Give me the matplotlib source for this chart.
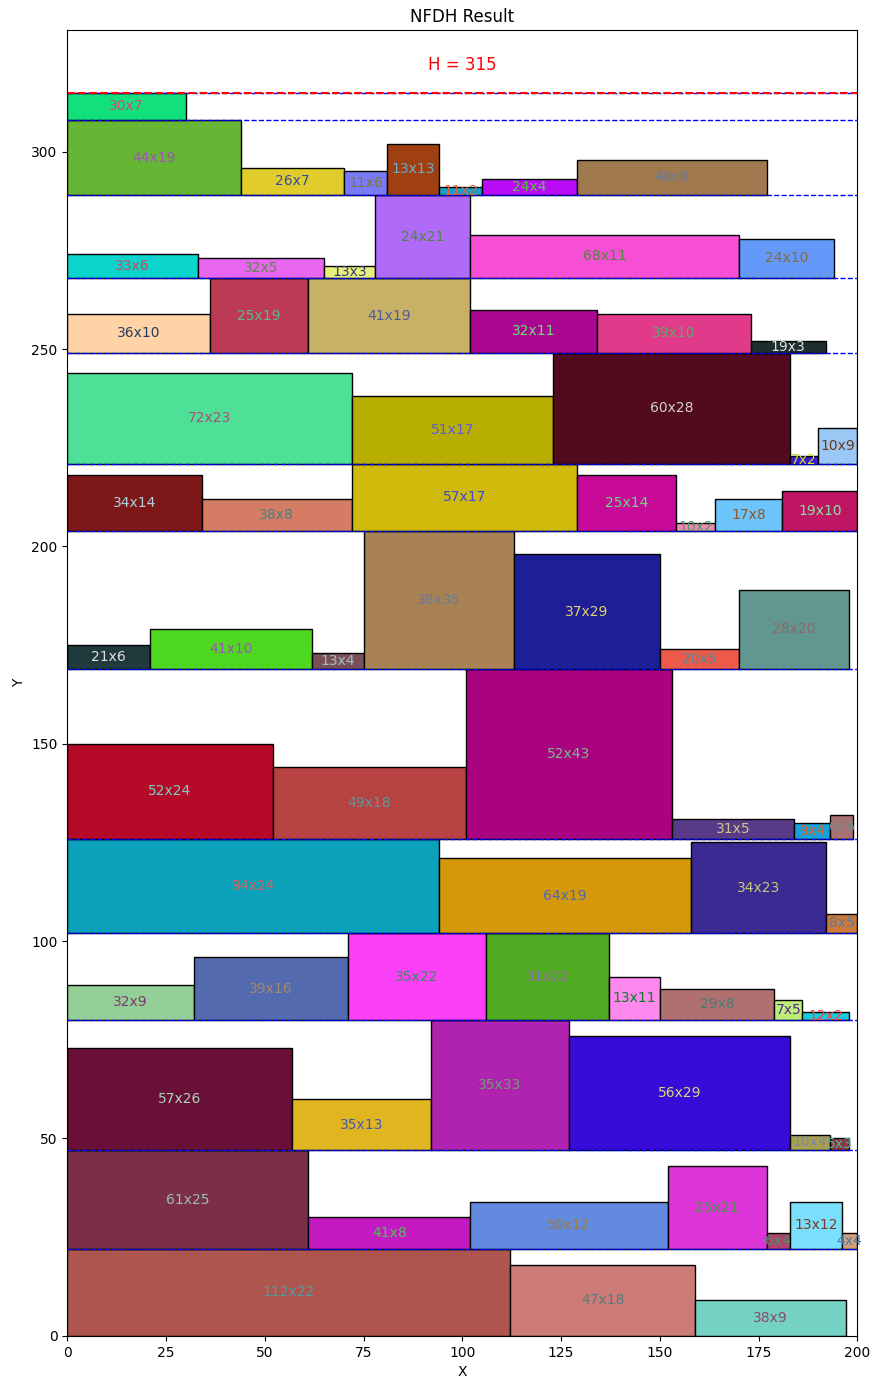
"""
NFDH strip packing result: rectangles laid out level by level in a strip of width 200.
"""

import matplotlib
matplotlib.use('Agg')
import matplotlib.pyplot as plt
import matplotlib.patches as patches

strip_width = 200

# one entry per rectangle, in the order they sit left to right within each level
level_id = [0, 0, 0,
            1, 1, 1, 1, 1, 1, 1,
            2, 2, 2, 2, 2, 2,
            3, 3, 3, 3, 3, 3, 3, 3,
            4, 4, 4, 4,
            5, 5, 5, 5, 5, 5,
            6, 6, 6, 6, 6, 6, 6,
            7, 7, 7, 7, 7, 7, 7,
            8, 8, 8, 8, 8,
            9, 9, 9, 9, 9, 9,
            10, 10, 10, 10, 10, 10,
            11, 11, 11, 11, 11, 11, 11,
            12]
rect_w = [112, 47, 38,
          61, 41, 50, 25, 6, 13, 4,
          57, 35, 35, 56, 10, 5,
          32, 39, 35, 31, 13, 29, 7, 12,
          94, 64, 34, 8,
          52, 49, 52, 31, 9, 6,
          21, 41, 13, 38, 37, 20, 28,
          34, 38, 57, 25, 10, 17, 19,
          72, 51, 60, 7, 10,
          36, 25, 41, 32, 39, 19,
          33, 32, 13, 24, 68, 24,
          44, 26, 11, 13, 11, 24, 48,
          30]
rect_h = [22, 18, 9,
          25, 8, 12, 21, 4, 12, 4,
          26, 13, 33, 29, 4, 3,
          9, 16, 22, 22, 11, 8, 5, 2,
          24, 19, 23, 5,
          24, 18, 43, 5, 4, 6,
          6, 10, 4, 35, 29, 5, 20,
          14, 8, 17, 14, 2, 8, 10,
          23, 17, 28, 2, 9,
          10, 19, 19, 11, 10, 3,
          6, 5, 3, 21, 11, 10,
          19, 7, 6, 13, 2, 4, 9,
          7]
face_colors = ['#ae554e', '#cd7b76', '#75d1c3',
               '#7a2e4a', '#c41ac4', '#628bdf', '#de35d8', '#b0406e', '#7adffa', '#d4a07a',
               '#6a1038', '#e1b51f', '#b022b0', '#380cd8', '#a8a050', '#8a3a3a',
               '#93cf96', '#546aae', '#fb40f8', '#4faa21', '#ff88ee', '#b07070', '#bcee78', '#1ac8d8',
               '#0ba1ba', '#d4980a', '#3a2a92', '#cc7a3a',
               '#b50a28', '#b74242', '#aa0380', '#583a88', '#1aa0d8', '#a87070',
               '#1e3a3c', '#4ed820', '#7a5058', '#a88252', '#1e1e96', '#ee5a4a', '#619691',
               '#7e1818', '#d47c64', '#cfb90a', '#c80a98', '#f08ab0', '#6cc4fa', '#be1662',
               '#4ee096', '#b8ae02', '#520a1e', '#3a1ad8', '#9ac8f4',
               '#ffd3a6', '#bc3a54', '#c8b066', '#aa0890', '#e23a8a', '#1e2e2e',
               '#0ad4cc', '#e866f0', '#e6f07a', '#b06af8', '#f64ed4', '#6399f8',
               '#66b535', '#e0cc2a', '#7a7af8', '#a04010', '#1aa0c8', '#ba0af8', '#a07a4e',
               '#12e07a']
text_colors = ['#4e9ea0', '#4f7f80', '#8a4a63',
               '#9abfa8', '#4fc04f', '#9b7a3c', '#3c9a3c', '#3c9a5c', '#7a3c2a', '#4a7aaa',
               '#a6d6b6', '#3c5aba', '#6aa06a', '#d8d87a', '#7a8a9a', '#4ab0b0',
               '#7a3c6a', '#a08a6a', '#3a8a5a', '#9a6aaa', '#107a2a', '#4a7a7a', '#5a2a8a', '#ff4040',
               '#e0604a', '#4a6aba', '#c8c87a', '#5a7a9a',
               '#7acec0', '#5a9a9a', '#7aba8a', '#c8c88a', '#e06020', '#7a8a8a',
               '#e0e0e0', '#a050c0', '#a0c0c0', '#6a7a9a', '#e0d070', '#4a8a9a', '#8a6a6a',
               '#b0d0e0', '#4e7e7e', '#3a4ada', '#60e080', '#4a9a6a', '#8a5a2a', '#8ae0a0',
               '#b04a7a', '#5a5ada', '#d0d0d0', '#c8e020', '#6a3a1a',
               '#2a3a5a', '#5aba9a', '#4e5a9a', '#6ae07a', '#5aaa6a', '#e0e0e0',
               '#c84a5a', '#5a8a4a', '#3a3a7a', '#4a8a3a', '#4a8a3a', '#8a6a3a',
               '#9a5ab0', '#3a4a9a', '#7a7a2a', '#6aaad0', '#e06040', '#60c040', '#6a7a9a',
               '#d04a7a']

# lay the rectangles out: each level starts where the previous one ended,
# level height is the tallest rectangle in it
n_levels = max(level_id) + 1
level_height = [max(h for h, l in zip(rect_h, level_id) if l == k) for k in range(n_levels)]
level_base = [sum(level_height[:k]) for k in range(n_levels)]
total_height = sum(level_height)

fig, ax = plt.subplots(figsize=(8.74, 13.8), dpi=100)
fig.subplots_adjust(left=0.077, right=0.981, top=0.978, bottom=0.032)

cursor = [0] * n_levels
for w, h, lvl, fc, tc in zip(rect_w, rect_h, level_id, face_colors, text_colors):
    x0 = cursor[lvl]
    y0 = level_base[lvl]
    ax.add_patch(patches.Rectangle((x0, y0), w, h, facecolor=fc,
                                   edgecolor='black', linewidth=1))
    ax.text(x0 + w / 2, y0 + h / 2, f'{w}x{h}', ha='center', va='center',
            fontsize=10, color=tc)
    cursor[lvl] += w

# level boundaries
for k in range(n_levels):
    ax.axhline(level_base[k] + level_height[k], color='blue', linestyle='--', linewidth=1)

ax.axhline(total_height, color='red', linestyle='--', linewidth=1.5)
ax.text(strip_width / 2, total_height + 7, f'H = {total_height}', color='red',
        fontsize=12, ha='center', va='center')

ax.set_xlim(0, strip_width)
ax.set_ylim(0, total_height * 1.05)
ax.set_title('NFDH Result')
ax.set_xlabel('X')
ax.set_ylabel('Y')

plt.savefig('out.png')
